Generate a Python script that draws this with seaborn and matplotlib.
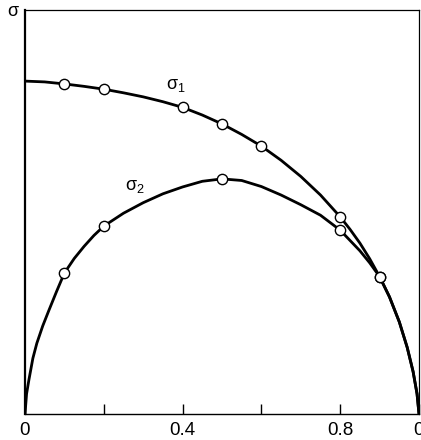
import matplotlib
matplotlib.use("Agg")
import matplotlib.pyplot as plt
import seaborn as sns
import pandas as pd

# sigma_1 curve
s1_x = [0.0, 0.05, 0.1, 0.15, 0.2, 0.25, 0.3, 0.35, 0.4, 0.45, 0.5, 0.55, 0.6, 0.65, 0.7,
        0.75, 0.8, 0.825, 0.85, 0.875, 0.9, 0.925, 0.95, 0.97, 0.985, 0.995, 1.0]
s1_y = [0.824, 0.822, 0.817, 0.811, 0.804, 0.795, 0.785, 0.773, 0.759, 0.740, 0.718, 0.692,
        0.663, 0.628, 0.588, 0.542, 0.488, 0.457, 0.423, 0.384, 0.340, 0.290, 0.228, 0.165,
        0.105, 0.050, 0.0]
# sigma_2 curve
s2_x = [0.0, 0.004, 0.01, 0.02, 0.03, 0.045, 0.06, 0.08, 0.1, 0.125, 0.15, 0.175, 0.2, 0.25,
        0.3, 0.35, 0.4, 0.45, 0.5, 0.55, 0.6, 0.65, 0.7, 0.75, 0.8, 0.85, 0.875, 0.9, 0.925,
        0.95, 0.97, 0.985, 0.995, 1.0]
s2_y = [0.0, 0.050, 0.085, 0.138, 0.175, 0.218, 0.255, 0.303, 0.349, 0.385, 0.415, 0.442,
        0.465, 0.497, 0.523, 0.545, 0.562, 0.576, 0.582, 0.578, 0.563, 0.542, 0.518, 0.492,
        0.455, 0.404, 0.374, 0.340, 0.290, 0.228, 0.165, 0.105, 0.050, 0.0]

# measured points (open circles)
p1_x = [0.1, 0.2, 0.4, 0.5, 0.6, 0.8, 0.9]
p1_y = [0.817, 0.804, 0.759, 0.718, 0.663, 0.488, 0.340]
p2_x = [0.1, 0.2, 0.5, 0.8, 0.9]
p2_y = [0.349, 0.465, 0.582, 0.455, 0.340]

xticks = [0.0, 0.2, 0.4, 0.6, 0.8, 1.0]
xticklabels = ["0", "", "0.4", "", "0.8", "0"]

sns.set_style("ticks")
plt.rcParams['font.family'] = ['Liberation Sans', 'DejaVu Sans']
plt.rcParams['mathtext.fontset'] = 'dejavusans'
plt.rcParams['mathtext.default'] = 'regular'
plt.rcParams['text.color'] = 'black'
plt.rcParams['xtick.color'] = 'black'
plt.rcParams['axes.edgecolor'] = 'black'

fig = plt.figure(figsize=(4.21, 4.40), dpi=100)
ax = fig.add_axes([25/421, 26/440, 394/421, 404/440])

c1 = pd.DataFrame({"x": s1_x, "y": s1_y})
c2 = pd.DataFrame({"x": s2_x, "y": s2_y})
sns.lineplot(data=c1, x="x", y="y", ax=ax, color="black", lw=2.0, sort=False, estimator=None)
sns.lineplot(data=c2, x="x", y="y", ax=ax, color="black", lw=2.0, sort=False, estimator=None)

pts = pd.DataFrame({"x": p1_x + p2_x, "y": p1_y + p2_y})
sns.scatterplot(data=pts, x="x", y="y", ax=ax, s=55, facecolor="white",
                edgecolor="black", linewidth=1.0, zorder=5)

ax.set_xlim(0, 1)
ax.set_ylim(0, 1)
ax.set_xticks(xticks)
ax.set_xticklabels(xticklabels, fontsize=13.5, color="black")
ax.set_yticks([])
ax.tick_params(axis="x", direction="in", length=7, width=1, pad=6, colors="black")
ax.set_xlabel("")
ax.set_ylabel("")
for side in ["top", "right", "bottom", "left"]:
    ax.spines[side].set_visible(True)
    ax.spines[side].set_color("black")
ax.spines["left"].set_linewidth(1.6)
ax.spines["bottom"].set_linewidth(1.0)
ax.spines["top"].set_linewidth(0.9)
ax.spines["right"].set_linewidth(0.9)

ax.text(0.383, 0.814, r"$\sigma_1$", fontsize=13, ha="center", va="center", color="black")
ax.text(0.279, 0.564, r"$\sigma_2$", fontsize=13, ha="center", va="center", color="black")
fig.text(13/421, 1 - 12/440, r"$\sigma$", fontsize=13, ha="center", va="center", color="black")

fig.savefig("out.png", dpi=100)
